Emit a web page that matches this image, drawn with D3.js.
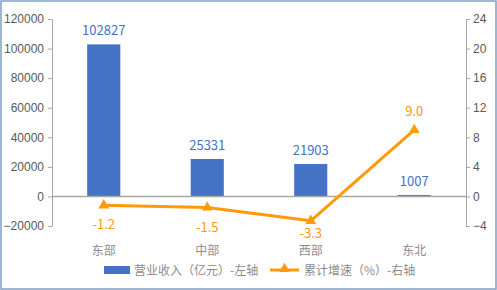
<!DOCTYPE html>
<html>
<head>
<meta charset="utf-8">
<script src="https://cdn.jsdelivr.net/npm/d3@7"></script>
<style>
  html, body { margin: 0; padding: 0; background: #fff; }
  svg { display: block; font-family: "Noto Sans CJK SC", "Noto Sans", sans-serif; }
</style>
</head>
<body>
<svg id="chart" width="497" height="290"></svg>
<script>
// data
const regions = ['东部', '中部', '西部', '东北'];
const revenue = [102827, 25331, 21903, 1007];
const growth = [-1.2, -1.5, -3.3, 9.0];
const leftTicks = [-20000, 0, 20000, 40000, 60000, 80000, 100000, 120000];
const rightTicks = [-4, 0, 4, 8, 12, 16, 20, 24];

const barColor = '#4472c4';
const lineColor = '#ff9a0a';
const axisColor = '#a6a6a6';

const svg = d3.select('#chart');
const W = 497, H = 290;

// frame
svg.append('rect')
    .attr('x', 1).attr('y', 1)
    .attr('width', W - 2).attr('height', H - 2)
    .attr('fill', 'white')
    .attr('stroke', '#7f9ec4')
    .attr('stroke-width', 1.5);

const plot = { left: 52, right: 466, top: 19, bottom: 226 };

const x = d3.scaleBand().domain(regions).range([plot.left, plot.right]).paddingInner(0.68).paddingOuter(0.34);
const yL = d3.scaleLinear().domain([-20000, 120000]).range([plot.bottom, plot.top]);
const yR = d3.scaleLinear().domain([-4, 24]).range([plot.bottom, plot.top]);

// left axis
const axL = svg.append('g')
    .attr('transform', `translate(${plot.left},0)`)
    .call(d3.axisLeft(yL).tickValues(leftTicks).tickFormat(d3.format('d'))
        .tickSize(4).tickSizeOuter(0).tickPadding(4));
axL.select('.domain').attr('stroke', axisColor);
axL.selectAll('.tick line').attr('stroke', axisColor);
axL.selectAll('.tick text').attr('fill', '#595959').attr('font-size', 12);

// right axis
const axR = svg.append('g')
    .attr('transform', `translate(${plot.right},0)`)
    .call(d3.axisRight(yR).tickValues(rightTicks).tickFormat(d3.format('d'))
        .tickSize(4).tickSizeOuter(0).tickPadding(3));
axR.select('.domain').attr('stroke', axisColor);
axR.selectAll('.tick line').attr('stroke', axisColor);
axR.selectAll('.tick text').attr('fill', '#595959').attr('font-size', 12);

// bars
svg.append('g').selectAll('rect')
    .data(regions)
    .enter().append('rect')
    .attr('x', d => x(d))
    .attr('width', x.bandwidth())
    .attr('y', (d, i) => yL(revenue[i]))
    .attr('height', (d, i) => yL(0) - yL(revenue[i]))
    .attr('fill', barColor);

// zero line
svg.append('line')
    .attr('x1', plot.left).attr('x2', plot.right)
    .attr('y1', yL(0)).attr('y2', yL(0))
    .attr('stroke', axisColor).attr('stroke-width', 1.5);

// bar labels
svg.append('g').selectAll('text')
    .data(regions)
    .enter().append('text')
    .attr('x', d => x(d) + x.bandwidth() / 2)
    .attr('y', (d, i) => yL(revenue[i]) - 9)
    .attr('text-anchor', 'middle')
    .attr('fill', barColor)
    .attr('font-size', 13)
    .text((d, i) => revenue[i]);

// line
const cx = d => x(d) + x.bandwidth() / 2;
const line = d3.line().x((d, i) => cx(regions[i])).y(d => yR(d));
svg.append('path')
    .datum(growth)
    .attr('d', line)
    .attr('fill', 'none')
    .attr('stroke', lineColor)
    .attr('stroke-width', 3)
    .attr('stroke-linejoin', 'round');

const tri = d3.symbol().type(d3.symbolTriangle).size(50);
svg.append('g').selectAll('path')
    .data(growth)
    .enter().append('path')
    .attr('d', tri)
    .attr('transform', (d, i) => `translate(${cx(regions[i])},${yR(d)})`)
    .attr('fill', lineColor);

// line labels (kept clear of the category labels)
svg.append('g').selectAll('text')
    .data(growth)
    .enter().append('text')
    .attr('x', (d, i) => cx(regions[i]))
    .attr('y', d => d >= 0 ? yR(d) - 14 : Math.min(yR(d) + 24, 238))
    .attr('text-anchor', 'middle')
    .attr('fill', lineColor)
    .attr('font-size', 13)
    .text(d => d.toFixed(1));

// category labels
svg.append('g').selectAll('text')
    .data(regions)
    .enter().append('text')
    .attr('x', d => cx(d))
    .attr('y', 255)
    .attr('text-anchor', 'middle')
    .attr('fill', '#8c8c8c')
    .attr('font-size', 12)
    .text(d => d);

// legend
const lg = svg.append('g').attr('font-size', 12);
lg.append('rect').attr('x', 104).attr('y', 266).attr('width', 26).attr('height', 8).attr('fill', barColor);
lg.append('text').attr('x', 134).attr('y', 274.5).attr('fill', '#8c8c8c').text('营业收入（亿元）-左轴');
lg.append('line').attr('x1', 270).attr('x2', 299).attr('y1', 270).attr('y2', 270)
    .attr('stroke', lineColor).attr('stroke-width', 3);
lg.append('path').attr('d', tri).attr('transform', 'translate(284.5,269)').attr('fill', lineColor);
lg.append('text').attr('x', 304).attr('y', 274.5).attr('fill', '#8c8c8c').text('累计增速（%）-右轴');
</script>
</body>
</html>
